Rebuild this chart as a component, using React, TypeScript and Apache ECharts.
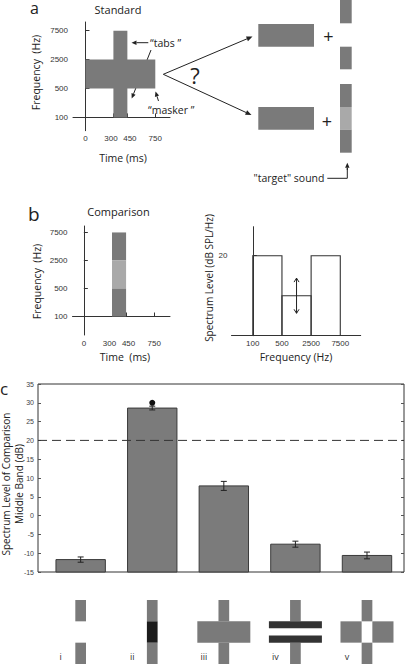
import React, { useEffect, useRef } from "react";
import * as echarts from "echarts";

// ---- data ----
const timeTicks = [0, 300, 450, 750];
const freqLabels = ["100", "500", "2500", "7500"];
const freqIdx = [0, 1, 2, 3];
const standardBands = [
  [300, 450, 0, 3],
  [0, 750, 1, 2],
];
const comparisonBands = [
  [300, 450, 2, 3],
  [300, 450, 1, 2],
  [300, 450, 0, 1],
];
const comparisonShades = ["#7a7a7a", "#a9a9a9", "#7a7a7a"];
const spectrumBands = [
  [0, 1, 20],
  [1, 2, 10],
  [2, 3, 20],
];
const spectrumTicks = [20];
const adjustRange = [5.6, 14.4];
const conditions = ["i", "ii", "iii", "iv", "v"];
const meanLevels = [-11.7, 28.6, 7.9, -7.6, -10.6];
const errLevels = [0.7, 0.5, 1.2, 0.8, 0.9];
const standardLevel = 20;
const markerPoints = [[2, 30.0]];
const iconMiddle = ["none", "black", "cross", "stripes", "ring"];

const C_MIN = -15;
const C_MAX = 35;
const C_XMIN = 0.404;
const C_XMAX = 5.517;

const GRAY = "#7a7a7a";
const LIGHT = "#a9a9a9";
const INK = "#222";
const FONT = "Open Sans";
const TICKFONT = "'Liberation Sans Narrow', 'Liberation Sans', sans-serif";

function txt(text: string, x: number, y: number, size: number, opts: any = {}) {
  const align = opts.align || "center";
  const valign = opts.valign || "middle";
  return {
    type: "text",
    x,
    y,
    rotation: opts.rotation || 0,
    style: {
      text,
      fontSize: size,
      fontFamily: FONT,
      fill: opts.color || INK,
      fontWeight: opts.weight || "normal",
      lineHeight: opts.lineHeight,
      align,
      verticalAlign: valign,
      textAlign: align,
      textVerticalAlign: valign,
    },
  };
}

function arrow(x1: number, y1: number, x2: number, y2: number, head = 5, hw = 2.2) {
  const dx = x2 - x1;
  const dy = y2 - y1;
  const L = Math.hypot(dx, dy);
  const ux = dx / L;
  const uy = dy / L;
  const nx = -uy;
  const ny = ux;
  const bx = x2 - ux * head;
  const by = y2 - uy * head;
  return [
    { type: "line", shape: { x1, y1, x2: bx, y2: by }, style: { stroke: INK, lineWidth: 1 } },
    {
      type: "polygon",
      shape: { points: [[x2, y2], [bx + nx * hw, by + ny * hw], [bx - nx * hw, by - ny * hw]] },
      style: { fill: INK },
    },
  ];
}

function rect(x: number, y: number, w: number, h: number, fill: string) {
  return { type: "rect", shape: { x, y, width: w, height: h }, style: { fill } };
}

const timeLabelFormatter = (v: number) => {
  if (v === 300) return "{l|300}";
  if (v === 450) return "{r|450}";
  return String(v);
};

function specAxes(gridIndex: number, xmin: number, xmax: number, ymin: number, ymax: number) {
  const line = { show: true, lineStyle: { color: "#333", width: 1 } };
  return {
    x: {
      type: "value",
      gridIndex,
      min: xmin,
      max: xmax,
      axisLine: line,
      axisTick: { show: true, inside: true, length: 4, customValues: timeTicks, lineStyle: { color: "#333" } },
      axisLabel: {
        customValues: timeTicks,
        fontSize: 8,
        color: "#333",
        margin: 4,
        fontFamily: TICKFONT,
        formatter: timeLabelFormatter,
        rich: {
          l: { fontSize: 8, color: "#333", fontFamily: TICKFONT, padding: [0, 5, 0, 0] },
          r: { fontSize: 8, color: "#333", fontFamily: TICKFONT, padding: [0, 0, 0, 5] },
        },
      },
      splitLine: { show: false },
    },
    y: {
      type: "value",
      gridIndex,
      min: ymin,
      max: ymax,
      axisLine: line,
      axisTick: { show: true, inside: true, length: 4, customValues: freqIdx, lineStyle: { color: "#333" } },
      axisLabel: {
        customValues: freqIdx,
        fontSize: 8,
        color: "#333",
        margin: 5,
        fontFamily: TICKFONT,
        formatter: (v: number) => freqLabels[Math.round(v)],
      },
      splitLine: { show: false },
    },
  };
}

export default function App() {
  const ref = useRef<HTMLDivElement>(null);
  useEffect(() => {
    if (!ref.current) return;
    const chart = echarts.init(ref.current, null, { renderer: "svg" });

    const aAx = specAxes(0, -134, 908, -0.46, 3.3);
    const bAx = specAxes(1, -121, 918, -0.66, 3.23);

    const graphic: any[] = [
      // panel letters
      txt("a", 30, 0, 16, { align: "left", valign: "top" }),
      txt("b", 28, 213.5, 19, { align: "left" }),
      txt("c", 0, 388, 17, { align: "left" }),
      // titles
      txt("Standard", 118, 9.5, 11),
      txt("Comparison", 118.5, 211.5, 11),
      // axis names
      txt("Frequency  (Hz)", 36, 72.5, 10.5, { rotation: Math.PI / 2 }),
      txt("Time (ms)", 123, 157.5, 10.5),
      txt("Frequency  (Hz)", 36.5, 281.5, 10.5, { rotation: Math.PI / 2 }),
      txt("Time  (ms)", 125, 357, 10.5),
      txt("Spectrum Level (dB SPL/Hz)", 209, 278, 10, { rotation: Math.PI / 2 }),
      txt("Frequency (Hz)", 296, 357, 10.5),
      txt("Spectrum Level of Comparison\nMiddle Band (dB)", 12.5, 484, 10, {
        rotation: Math.PI / 2,
        lineHeight: 13,
      }),
      // annotations
      txt("\u201ctabs \u201d", 150, 42.7, 10.5, { align: "left" }),
      ...arrow(148.3, 42.7, 131.5, 42.7),
      ...arrow(151, 50, 131.7, 98.5),
      txt("\u201cmasker \u201d", 148, 110, 10.5, { align: "left" }),
      ...arrow(158.5, 101, 155.5, 91.5),
      txt("?", 195, 75, 22),
      ...arrow(163.3, 74.3, 252.5, 36.5, 6, 2.5),
      ...arrow(163.3, 74.3, 251.5, 115, 6, 2.5),
      // right schematic
      rect(258.3, 24, 55.7, 22.7, GRAY),
      txt("+", 328.5, 36, 18, { color: "#222" }),
      rect(340, 0, 11.7, 23.3, GRAY),
      rect(340, 46.7, 11.7, 22.6, GRAY),
      rect(258.3, 107, 55.7, 22.7, GRAY),
      txt("+", 327, 120.5, 18, { color: "#222" }),
      rect(340, 84, 11.7, 23, GRAY),
      rect(340, 107, 11.7, 22.7, LIGHT),
      rect(340, 129.7, 11.7, 23, GRAY),
      txt("\"target\" sound", 289, 178.3, 10.5),
      { type: "polyline", shape: { points: [[327.3, 178.3], [347.3, 178.3], [347.3, 168]] }, style: { stroke: INK, lineWidth: 1, fill: null } },
      ...arrow(347.3, 170, 347.3, 162.7, 5, 2.2),
    ];

    const option: any = {
      animation: false,
      textStyle: { fontFamily: FONT },
      grid: [
        { left: 73, top: 22, width: 97, height: 108.7 },
        { left: 72.5, top: 226, width: 97.5, height: 109 },
        { left: 231.5, top: 226.7, width: 129.2, height: 109 },
        { left: 38, top: 384, width: 366, height: 188, show: true, borderColor: "#333", borderWidth: 1, backgroundColor: "transparent" },
        { left: 38, top: 600, width: 366, height: 64 },
      ],
      xAxis: [
        aAx.x,
        bAx.x,
        {
          type: "value",
          gridIndex: 2,
          min: -0.73,
          max: 3.7,
          axisLine: { show: true, lineStyle: { color: "#333" } },
          axisTick: { show: false },
          axisLabel: {
            customValues: freqIdx,
            fontSize: 8,
            color: "#333",
            margin: 4,
            fontFamily: TICKFONT,
            formatter: (v: number) => freqLabels[Math.round(v)],
          },
          splitLine: { show: false },
        },
        { type: "value", gridIndex: 3, min: C_XMIN, max: C_XMAX, show: false },
        { type: "value", gridIndex: 4, min: C_XMIN, max: C_XMAX, show: false },
      ],
      yAxis: [
        aAx.y,
        bAx.y,
        {
          type: "value",
          gridIndex: 2,
          min: 0,
          max: 27.25,
          axisLine: { show: true, lineStyle: { color: "#333" } },
          axisTick: { show: true, inside: true, length: 4, customValues: spectrumTicks, lineStyle: { color: "#333" } },
          axisLabel: { customValues: spectrumTicks, fontSize: 8, color: "#333", margin: 4, fontFamily: TICKFONT },
          splitLine: { show: false },
        },
        {
          type: "value",
          gridIndex: 3,
          min: C_MIN,
          max: C_MAX,
          interval: 5,
          axisLine: { show: false },
          axisTick: { show: true, inside: true, length: 3, lineStyle: { color: "#555" } },
          axisLabel: { fontSize: 7, color: "#444", margin: 4, fontFamily: "Liberation Sans" },
          splitLine: { show: false },
        },
        {
          type: "value",
          gridIndex: 3,
          position: "right",
          min: C_MIN,
          max: C_MAX,
          interval: 5,
          axisLine: { show: false },
          axisTick: { show: true, inside: true, length: 3, lineStyle: { color: "#555" } },
          axisLabel: { show: false },
          splitLine: { show: false },
        },
        { type: "value", gridIndex: 4, min: 0, max: 3, show: false },
      ],
      series: [
        {
          type: "custom",
          xAxisIndex: 0,
          yAxisIndex: 0,
          data: standardBands,
          encode: { x: [0, 1], y: [2, 3] },
          itemStyle: { color: GRAY },
          renderItem: (params: any, api: any) => {
            const p0 = api.coord([api.value(0), api.value(3)]);
            const p1 = api.coord([api.value(1), api.value(2)]);
            return { type: "rect", shape: { x: p0[0], y: p0[1], width: p1[0] - p0[0], height: p1[1] - p0[1] }, style: { fill: GRAY } };
          },
        },
        {
          type: "custom",
          xAxisIndex: 1,
          yAxisIndex: 1,
          data: comparisonBands,
          encode: { x: [0, 1], y: [2, 3] },
          itemStyle: { color: GRAY },
          renderItem: (params: any, api: any) => {
            const p0 = api.coord([api.value(0), api.value(3)]);
            const p1 = api.coord([api.value(1), api.value(2)]);
            return {
              type: "rect",
              shape: { x: p0[0], y: p0[1], width: p1[0] - p0[0], height: p1[1] - p0[1] },
              style: { fill: comparisonShades[params.dataIndex] },
            };
          },
        },
        {
          type: "custom",
          xAxisIndex: 2,
          yAxisIndex: 2,
          data: spectrumBands,
          encode: { x: [0, 1], y: 2 },
          itemStyle: { color: "#333" },
          renderItem: (params: any, api: any) => {
            const x0 = api.value(0);
            const x1 = api.value(1);
            const l = api.value(2);
            const pts = [api.coord([x0, 0]), api.coord([x0, l]), api.coord([x1, l]), api.coord([x1, 0])];
            const children: any[] = [
              { type: "polyline", shape: { points: pts }, style: { stroke: "#333", lineWidth: 1.1, fill: null } },
            ];
            if (l < 20) {
              const xm = (x0 + x1) / 2;
              const a = api.coord([xm, adjustRange[0]]);
              const b = api.coord([xm, adjustRange[1]]);
              children.push({ type: "line", shape: { x1: a[0], y1: a[1], x2: b[0], y2: b[1] }, style: { stroke: INK, lineWidth: 1 } });
              children.push({ type: "polyline", shape: { points: [[b[0] - 2.5, b[1] + 4], [b[0], b[1]], [b[0] + 2.5, b[1] + 4]] }, style: { stroke: INK, lineWidth: 1, fill: null } });
              children.push({ type: "polyline", shape: { points: [[a[0] - 2.5, a[1] - 4], [a[0], a[1]], [a[0] + 2.5, a[1] - 4]] }, style: { stroke: INK, lineWidth: 1, fill: null } });
            }
            return { type: "group", children };
          },
        },
        {
          type: "custom",
          xAxisIndex: 3,
          yAxisIndex: 3,
          data: meanLevels.map((m, i) => [i + 1, m, errLevels[i]]),
          encode: { x: 0, y: 1 },
          itemStyle: { color: "#7b7b7b" },
          renderItem: (params: any, api: any) => {
            const x = api.value(0);
            const m = api.value(1);
            const e = api.value(2);
            const w = api.size([1, 0])[0] * 0.69;
            const top = api.coord([x, m]);
            const base = api.coord([x, C_MIN]);
            const lo = api.coord([x, m - e]);
            const hi = api.coord([x, m + e]);
            return {
              type: "group",
              children: [
                {
                  type: "rect",
                  shape: { x: top[0] - w / 2, y: top[1], width: w, height: base[1] - top[1] },
                  style: { fill: "#7b7b7b", stroke: "#3a3a3a", lineWidth: 1 },
                },
                { type: "line", shape: { x1: lo[0], y1: lo[1], x2: hi[0], y2: hi[1] }, style: { stroke: INK, lineWidth: 1 } },
                { type: "line", shape: { x1: lo[0] - 3, y1: lo[1], x2: lo[0] + 3, y2: lo[1] }, style: { stroke: INK, lineWidth: 1 } },
                { type: "line", shape: { x1: hi[0] - 3, y1: hi[1], x2: hi[0] + 3, y2: hi[1] }, style: { stroke: INK, lineWidth: 1 } },
              ],
            };
          },
        },
        {
          type: "line",
          xAxisIndex: 3,
          yAxisIndex: 3,
          data: [
            [C_XMIN, standardLevel],
            [C_XMAX, standardLevel],
          ],
          symbol: "none",
          lineStyle: { color: "#333", width: 1, type: [9, 5] },
          silent: true,
        },
        {
          type: "scatter",
          xAxisIndex: 3,
          yAxisIndex: 3,
          data: markerPoints,
          symbol: "circle",
          symbolSize: 6,
          itemStyle: { color: "#111", opacity: 1 },
        },
        {
          type: "custom",
          xAxisIndex: 4,
          yAxisIndex: 5,
          data: conditions.map((c, i) => [i + 1, 1.5]),
          encode: { x: 0, y: 1 },
          itemStyle: { color: "#333" },
          renderItem: (params: any, api: any) => {
            const i = params.dataIndex;
            const x = api.value(0);
            const cx = api.coord([x, 1.5])[0];
            const y3 = api.coord([x, 3])[1];
            const y2 = api.coord([x, 2])[1];
            const y1 = api.coord([x, 1])[1];
            const y0 = api.coord([x, 0])[1];
            const vw = 10.7;
            const fw = 26.5;
            const kind = iconMiddle[i];
            const ch: any[] = [];
            const r = (x0: number, yy: number, w: number, h: number, fill: string) =>
              ch.push({ type: "rect", shape: { x: x0, y: yy, width: w, height: h }, style: { fill } });
            r(cx - vw / 2, y3, vw, y2 - y3, GRAY);
            r(cx - vw / 2, y1, vw, y0 - y1, GRAY);
            const bh = y1 - y2;
            if (kind === "black") r(cx - vw / 2, y2, vw, bh, "#1c1c1c");
            if (kind === "cross") r(cx - fw, y2, fw * 2, bh, GRAY);
            if (kind === "stripes") {
              r(cx - fw, y2, fw * 2, bh * 0.33, "#333");
              r(cx - fw, y2 + bh * 0.66, fw * 2, bh * 0.34, "#333");
            }
            if (kind === "ring") {
              r(cx - fw, y2, fw - vw / 2, bh, GRAY);
              r(cx + vw / 2, y2, fw - vw / 2, bh, GRAY);
            }
            const ly = y0 - 7.5;
            ch.push({
              type: "text",
              x: cx - 20,
              y: ly,
              style: {
                text: conditions[i],
                fontSize: 9,
                fontFamily: FONT,
                fill: "#333",
                align: "center",
                verticalAlign: "middle",
                textAlign: "center",
                textVerticalAlign: "middle",
              },
            });
            return { type: "group", children: ch };
          },
        },
      ],
      graphic: { elements: graphic },
    };

    chart.setOption(option);
    return () => chart.dispose();
  }, []);

  return (
    <div
      ref={ref}
      style={{ position: "fixed", left: 0, top: 0, width: 408, height: 664, background: "#fff" }}
    />
  );
}
